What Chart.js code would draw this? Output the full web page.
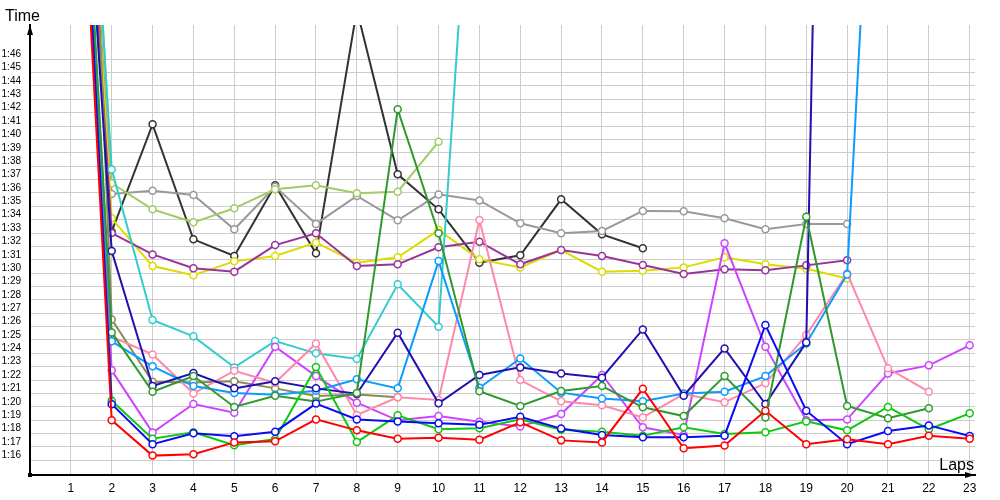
<!DOCTYPE html>
<html>
<head>
<meta charset="utf-8">
<script src="https://cdn.jsdelivr.net/npm/chart.js@4.4.1/dist/chart.umd.min.js"></script>
<style>
  html, body { margin: 0; padding: 0; background: #fff; }
  #wrap { width: 1000px; height: 500px; }
</style>
</head>
<body>
<div id="wrap"><canvas id="lapChart" width="1000" height="500"></canvas></div>
<script>
// Laps on the x axis
const laps = [1, 2, 3, 4, 5, 6, 7, 8, 9, 10, 11, 12, 13, 14, 15, 16, 17, 18, 19, 20, 21, 22, 23];

// Time axis labels (m:ss)
const timeTicks = ['1:16', '1:17', '1:18', '1:19', '1:20', '1:21', '1:22', '1:23', '1:24', '1:25',
  '1:26', '1:27', '1:28', '1:29', '1:30', '1:31', '1:32', '1:33', '1:34', '1:35', '1:36', '1:37',
  '1:38', '1:39', '1:40', '1:41', '1:42', '1:43', '1:44', '1:45', '1:46'];

// Lap times in seconds, one array per driver (null = no lap)
const red = [136.8, 79.0, 76.35, 76.45, 77.34, 77.42, 79.06, 78.24, 77.62, 77.69, 77.54, 78.84, 77.49, 77.34, 81.35, 76.9, 77.1, 79.71, 77.2, 77.57, 77.2, 77.84, 77.62];
const blue = [140, 80.2, 77.2, 78.02, 77.79, 78.14, 80.24, 79.06, 78.9, 78.77, 78.65, 79.25, 78.37, 77.9, 77.72, 77.72, 77.84, 86.12, 79.71, 77.2, 78.19, 78.61, 77.82];
const green = [140, 80.45, 77.62, 78.09, 77.12, 77.59, 82.97, 77.37, 79.36, 78.32, 78.39, 79.06, 78.29, 78.14, 77.84, 78.47, 77.97, 78.09, 78.91, 78.24, 79.99, 78.32, 79.51];
const darkGreen = [140, 85.55, 81.13, 82.3, 79.99, 80.83, 80.39, 81.03, 102.25, 92.98, 81.17, 80.06, 81.18, 81.55, 79.96, 79.31, 82.3, 79.21, 94.22, 80.06, 79.14, 79.89, null];
const navy = [138, 91.65, 81.56, 82.53, 81.38, 81.91, 81.38, 80.98, 85.54, 80.26, 82.38, 82.95, 82.5, 82.18, 85.79, 80.83, 84.37, 80.21, 84.82, 235, null, null, null];
const azure = [139, 84.9, 83.03, 81.56, 81.03, 80.91, 81.21, 82.06, 81.38, 90.9, 81.43, 83.62, 81.06, 80.63, 80.41, 81.0, 81.13, 82.3, 84.74, 89.9, 147, null, null];
const pink = [139, 85.24, 83.92, 81.0, 82.7, 81.8, 84.74, 79.39, 80.71, 80.51, 93.97, 82.0, 80.41, 80.11, 79.21, 80.95, 80.34, 81.76, 85.37, 89.98, 82.88, 81.13, null];
const violet = [139.4, 82.73, 78.07, 80.21, 79.56, 84.5, 82.3, 80.31, 78.99, 79.31, 78.89, 78.52, 79.46, 82.38, 78.47, 77.9, 92.23, 84.5, 78.99, 79.06, 82.5, 83.1, 84.6];
const cyan = [147, 97.76, 86.49, 85.27, 82.95, 84.92, 84.0, 83.58, 89.16, 85.99, 132, null, null, null, null, null, null, null, null, null, null, null, null];
const olive = [162, 86.54, 81.88, 81.81, 81.91, 81.38, 80.81, 80.93, 80.71, null, null, null, null, null, null, null, null, null, null, null, null, null, null];
const purple = [140, 93.0, 91.4, 90.36, 90.11, 92.1, 92.98, 90.53, 90.66, 91.93, 92.35, 90.66, 91.73, 91.28, 90.61, 89.94, 90.29, 90.21, 90.58, 90.96, null, null, null];
const yellow = [143.9, 94.1, 90.53, 89.85, 90.88, 91.28, 92.28, 90.78, 91.18, 93.22, 91.03, 90.43, 91.73, 90.11, 90.18, 90.43, 91.18, 90.66, 90.33, 89.6, null, null, null];
const lightGreen = [151, 96.72, 94.77, 93.8, 94.85, 96.27, 96.57, 95.97, 96.09, 99.83, null, null, null, null, null, null, null, null, null, null, null, null, null];
const gray = [142.2, 95.92, 96.17, 95.85, 93.28, 96.47, 93.68, 95.77, 93.95, 95.89, 95.44, 93.73, 92.98, 93.15, 94.65, 94.62, 94.1, 93.28, 93.68, 93.68, null, null, null];
const dark = [142, 93.1, 101.13, 92.53, 91.28, 96.57, 91.48, 109.7, 97.39, 94.77, 90.78, 91.33, 95.52, 92.9, 91.86, null, null, null, null, null, null, null, null];

// series + colour, first one drawn on top
const drivers = [
  [red, '#ff0000'],
  [blue, '#0a0af5'],
  [green, '#10c810'],
  [darkGreen, '#2e9a2e'],
  [navy, '#2010b0'],
  [azure, '#0a9cff'],
  [pink, '#ff88aa'],
  [violet, '#cc44ff'],
  [cyan, '#33cccc'],
  [olive, '#8a8a5a'],
  [purple, '#993399'],
  [yellow, '#dcdc00'],
  [lightGreen, '#a0cc66'],
  [gray, '#999999'],
  [dark, '#333333']
];

function toSeconds(t) {
  var p = t.split(':');
  return parseInt(p[0]) * 60 + parseInt(p[1]);
}

const datasets = drivers.map(function (d) {
  var pts = [];
  laps.forEach(function (lap, i) {
    if (d[0][i] !== null) pts.push({ x: lap, y: d[0][i] });
  });
  return {
    data: pts,
    borderColor: d[1],
    backgroundColor: d[1],
    borderWidth: 2,
    pointRadius: 3.5,
    pointHoverRadius: 3.5,
    pointBorderWidth: 1.5,
    pointBorderColor: d[1],
    pointBackgroundColor: '#ffffff',
    tension: 0
  };
});

// axis arrows, origin marker and axis captions
const decorations = {
  id: 'decorations',
  afterDraw: function (chart) {
    var ctx = chart.ctx;
    var a = chart.chartArea;
    ctx.save();
    ctx.fillStyle = '#000';
    // y arrow
    ctx.beginPath();
    ctx.moveTo(a.left, a.top);
    ctx.lineTo(a.left - 3, a.top + 10);
    ctx.lineTo(a.left + 3, a.top + 10);
    ctx.closePath();
    ctx.fill();
    // x arrow
    ctx.beginPath();
    ctx.moveTo(a.right, a.bottom);
    ctx.lineTo(a.right - 10, a.bottom - 3);
    ctx.lineTo(a.right - 10, a.bottom + 3);
    ctx.closePath();
    ctx.fill();
    // origin
    ctx.fillRect(a.left - 2, a.bottom - 2, 4, 4);
    // captions
    ctx.font = '16px "Liberation Sans", Arial, sans-serif';
    ctx.textBaseline = 'alphabetic';
    ctx.textAlign = 'left';
    ctx.fillText('Time', 5, 21);
    ctx.textAlign = 'right';
    ctx.fillText('Laps', a.right - 1, a.bottom - 5);
    ctx.restore();
  }
};

new Chart(document.getElementById('lapChart').getContext('2d'), {
  type: 'line',
  data: { datasets: datasets },
  options: {
    responsive: false,
    animation: false,
    layout: { padding: { top: 25, right: 25, left: 0, bottom: 0 } },
    plugins: { legend: { display: false }, tooltip: { enabled: false } },
    scales: {
      x: {
        type: 'linear',
        min: 0,
        max: 23.13,
        afterFit: function (scale) { scale.height = 25; },
        afterBuildTicks: function (scale) {
          scale.ticks = laps.map(function (l) { return { value: l }; });
        },
        grid: { color: '#cccccc', lineWidth: 1, drawTicks: false },
        border: { display: true, color: '#000', width: 2 },
        ticks: {
          padding: 6,
          color: '#000',
          font: { family: '"Liberation Sans", Arial, sans-serif', size: 12 },
          callback: function (v) { return String(v); }
        }
      },
      y: {
        type: 'linear',
        min: 74.9,
        max: 108.56,
        afterFit: function (scale) { scale.width = 30; },
        afterBuildTicks: function (scale) {
          scale.ticks = timeTicks.map(function (t) { return { value: toSeconds(t) }; });
        },
        grid: { color: '#cccccc', lineWidth: 1, drawTicks: false },
        border: { display: true, color: '#000', width: 2 },
        ticks: {
          padding: 9,
          labelOffset: -5,
          color: '#000',
          font: { family: '"Liberation Sans", Arial, sans-serif', size: 10 },
          callback: function (v, i) { return timeTicks[i]; }
        }
      }
    }
  },
  plugins: [decorations]
});
</script>
</body>
</html>
